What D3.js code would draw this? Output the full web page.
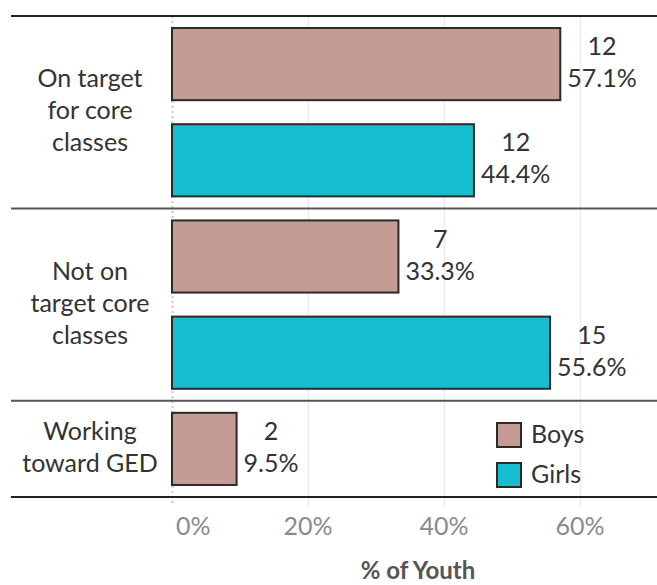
<!DOCTYPE html>
<html>
<head>
<meta charset="utf-8">
<script src="https://cdn.jsdelivr.net/npm/d3@7"></script>
<style>
  body { margin: 0; background: #fff; }
  text { font-family: Lato, "Open Sans", sans-serif; }
</style>
</head>
<body>
<div id="datavis"></div>
<script>
// data
let categories = ["On target for core classes", "Not on target core classes", "Working toward GED"]
let categoryLines = [["On target", "for core", "classes"], ["Not on", "target core", "classes"], ["Working", "toward GED"]]
let boysCount = [12, 7, 2]
let boysPct = [57.1, 33.3, 9.5]
let girlsCount = [12, 15, null]
let girlsPct = [44.4, 55.6, null]
let xTicks = [0, 20, 40, 60]
let groups = ["Boys", "Girls"]

let width = 657,
    height = 585

let color = d3.scaleOrdinal()
  .domain(groups)
  .range(["#c49c94", "#17becf"])

// one row per bar, categories without a value get no row
let rows = []
categories.forEach(function(c, i) {
  if (boysPct[i] != null) rows.push({cat: i, group: "Boys", pct: boysPct[i], n: boysCount[i]})
  if (girlsPct[i] != null) rows.push({cat: i, group: "Girls", pct: girlsPct[i], n: girlsCount[i]})
})
rows.forEach(function(d, i) { d.key = i })

let yTop = 16, yBottom = 497

let x = d3.scaleLinear().domain([0, 60]).range([172, 580])
let y = d3.scaleBand()
  .domain(rows.map(d => d.key))
  .range([yTop, yBottom])
  .paddingInner(0.25)
  .paddingOuter(0.125)

let svg = d3.select('#datavis')
  .append('svg')
    .attr('width', width)
    .attr('height', height)

// gridlines
svg.append('g')
  .selectAll('line')
  .data(xTicks)
  .enter()
  .append('line')
    .attr('x1', d => x(d) + 0.5)
    .attr('x2', d => x(d) + 0.5)
    .attr('y1', yTop)
    .attr('y2', yBottom + 9)
    .attr('stroke', d => d === 0 ? '#c8c8c8' : '#ebebeb')
    .attr('stroke-width', d => d === 0 ? 2 : 1.5)
    .attr('stroke-dasharray', d => d === 0 ? '2,3' : null)

// category extents
let catBounds = categories.map(function(c, i) {
  let r = rows.filter(d => d.cat === i)
  let y0 = y(r[0].key) - y.step() * y.paddingInner() / 2
  let y1 = y(r[r.length - 1].key) + y.bandwidth() + y.step() * y.paddingInner() / 2
  return {y0: y0, y1: y1}
})

// bars
svg.append('g')
  .selectAll('rect')
  .data(rows)
  .enter()
  .append('rect')
    .attr('x', x(0))
    .attr('y', d => y(d.key))
    .attr('width', d => x(d.pct) - x(0))
    .attr('height', y.bandwidth())
    .attr('fill', d => color(d.group))
    .attr('stroke', '#2a2a2a')
    .attr('stroke-width', 2)

// value labels: count over percent
let vl = svg.append('g')
  .selectAll('g')
  .data(rows)
  .enter()
  .append('g')

vl.each(function(d) {
  let g = d3.select(this)
  let cy = y(d.key) + y.bandwidth() / 2
  let p = g.append('text')
    .attr('y', cy + 23)
    .attr('font-size', 25)
    .attr('fill', '#333')
    .attr('text-anchor', 'middle')
    .text(d.pct.toFixed(1) + '%')
  let w = p.node().getComputedTextLength()
  let cx = x(d.pct) + 7 + w / 2
  p.attr('x', cx)
  g.append('text')
    .attr('x', cx)
    .attr('y', cy - 9)
    .attr('font-size', 25)
    .attr('fill', '#333')
    .attr('text-anchor', 'middle')
    .text(d.n)
})

// category labels
svg.append('g')
  .selectAll('text')
  .data(categoryLines)
  .enter()
  .append('text')
    .attr('font-size', 25)
    .attr('fill', '#333')
    .attr('text-anchor', 'middle')
    .each(function(lines, i) {
      let b = catBounds[i]
      let mid = (b.y0 + b.y1) / 2
      let first = mid + 7 - (lines.length - 1) * 32 / 2
      d3.select(this).selectAll('tspan')
        .data(lines)
        .enter()
        .append('tspan')
          .attr('x', 90)
          .attr('y', (l, j) => first + j * 32)
          .text(l => l)
    })

// horizontal dividers
let divs = [yTop].concat(catBounds.map(b => b.y1))
divs[divs.length - 1] = yBottom
svg.append('g')
  .selectAll('line')
  .data(divs)
  .enter()
  .append('line')
    .attr('x1', 11)
    .attr('x2', width)
    .attr('y1', d => d)
    .attr('y2', d => d)
    .attr('stroke', (d, i) => (i === 0 || i === divs.length - 1) ? '#222' : '#555')
    .attr('stroke-width', 2)

// x axis tick labels
svg.append('g')
  .selectAll('text')
  .data(xTicks)
  .enter()
  .append('text')
    .attr('x', d => d === 0 ? x(d) + 4 : x(d))
    .attr('y', 535)
    .attr('font-size', 25)
    .attr('fill', '#8a8a8a')
    .attr('text-anchor', d => d === 0 ? 'start' : 'middle')
    .text(d => d + '%')

svg.append('text')
  .attr('x', 418)
  .attr('y', 579)
  .attr('font-size', 24)
  .attr('font-weight', 'bold')
  .attr('fill', '#555')
  .attr('text-anchor', 'middle')
  .text('% of Youth')

// legend
let legend = svg.append('g')
  .selectAll('g')
  .data(groups)
  .enter()
  .append('g')
    .attr('transform', (d, i) => `translate(497,${423 + i * 40})`)

legend.append('rect')
  .attr('width', 24)
  .attr('height', 24)
  .attr('fill', d => color(d))
  .attr('stroke', '#2a2a2a')
  .attr('stroke-width', 2)

legend.append('text')
  .attr('x', 34)
  .attr('y', 20)
  .attr('font-size', 25)
  .attr('fill', '#333')
  .text(d => d)
</script>
</body>
</html>
